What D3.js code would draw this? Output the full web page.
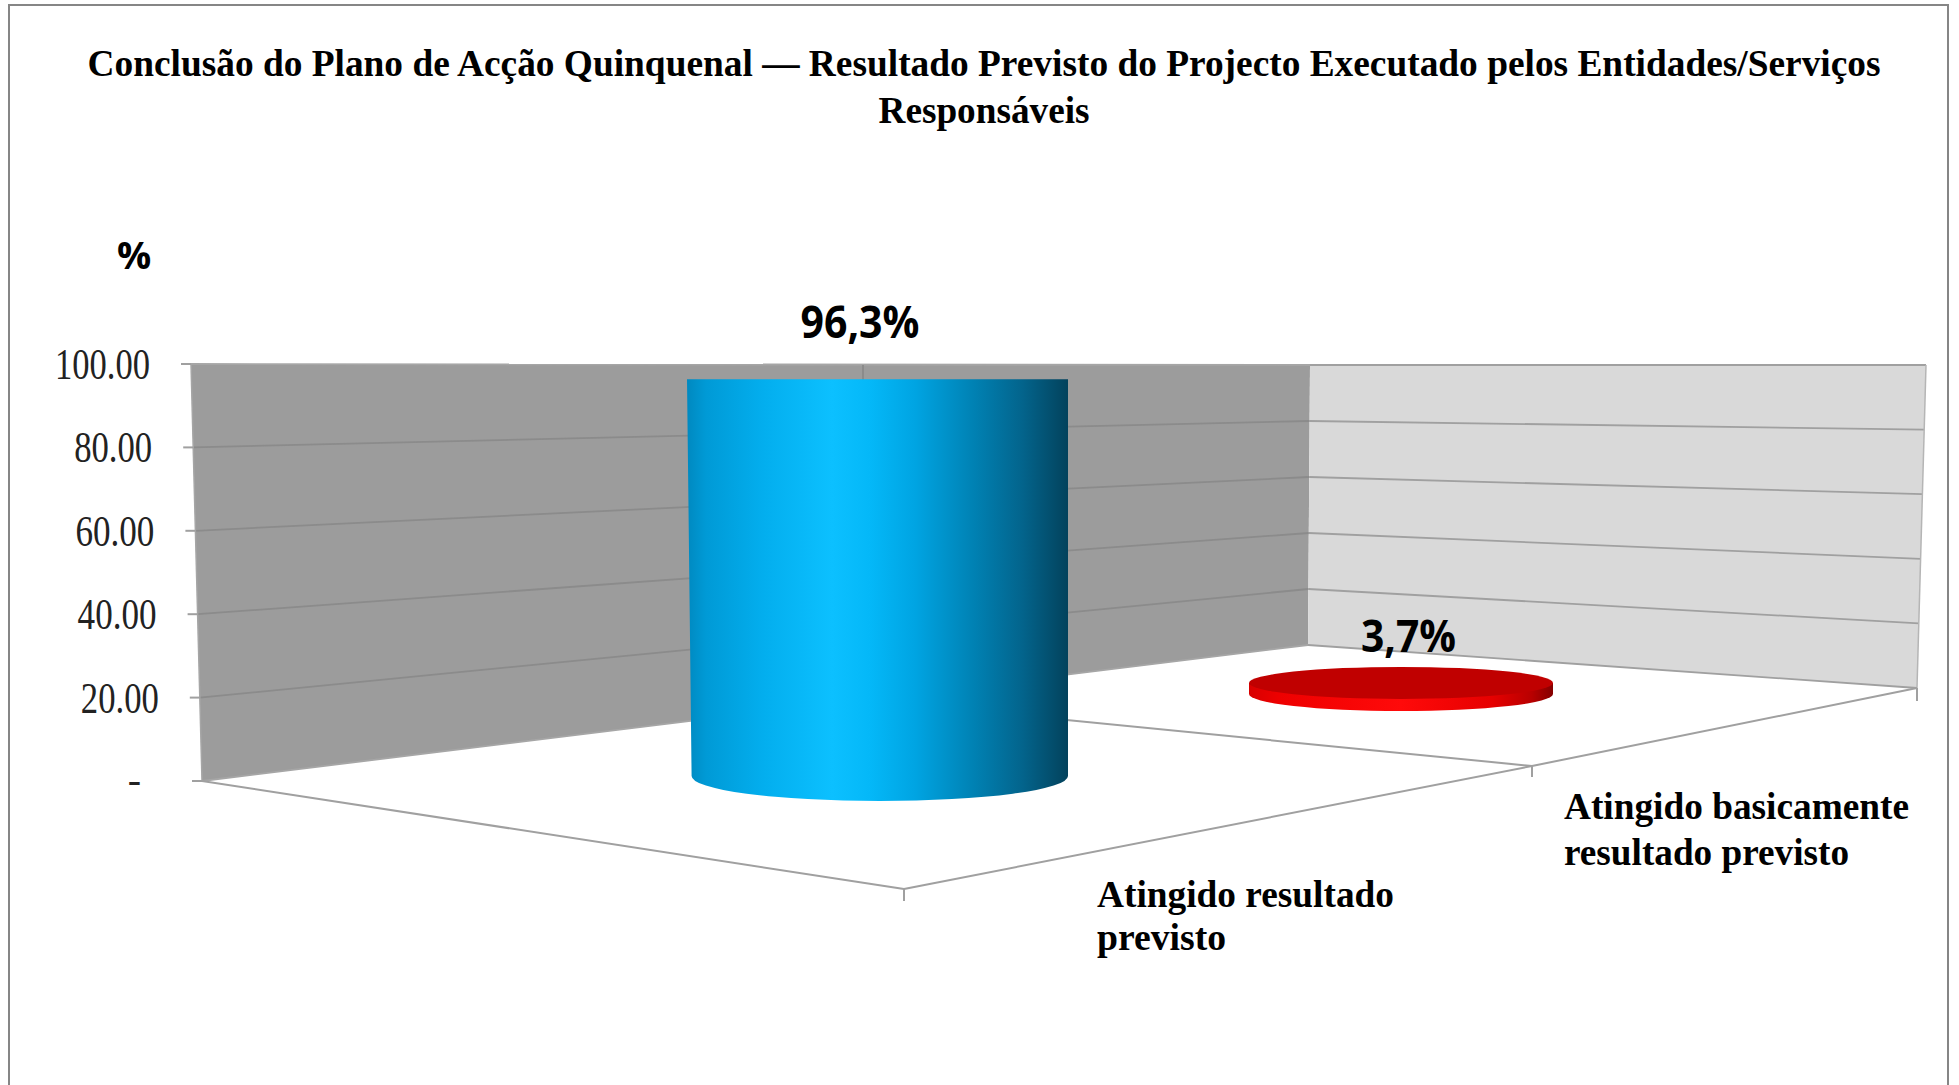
<!DOCTYPE html>
<html>
<head>
<meta charset="utf-8">
<script src="https://cdn.jsdelivr.net/npm/d3@7"></script>
<style>
  html, body { margin: 0; padding: 0; background: #fff; overflow: hidden; }
  svg { display: block; }
</style>
</head>
<body>
<div id="chart"></div>
<script>
// chart data
const categories = ["Atingido resultado previsto", "Atingido basicamente resultado previsto"];
const values = [96.3, 3.7];
const valueLabels = ["96,3%", "3,7%"];
const tickValues = [0, 20, 40, 60, 80, 100];
const tickLabels = ["-", "20.00", "40.00", "60.00", "80.00", "100.00"];
const titleLines = [
  "Conclusão do Plano de Acção Quinquenal — Resultado Previsto do Projecto Executado pelos Entidades/Serviços",
  "Responsáveis"
];
const categoryLines = [["Atingido resultado", "previsto"], ["Atingido basicamente", "resultado previsto"]];
const unitLabel = "%";

const W = 1959, H = 1085;
const serif = "'Liberation Serif', serif";
const sans = "'Open Sans', sans-serif";

const svg = d3.select("#chart").append("svg").attr("width", W).attr("height", H);
const defs = svg.append("defs");

function addGradient(id, stops) {
  const g = defs.append("linearGradient").attr("id", id);
  stops.forEach(s => g.append("stop").attr("offset", s[0]).attr("stop-color", s[1]));
}
addGradient("cylBlue", [[0, "#0089c0"], [0.05, "#009ad6"], [0.2, "#03aeee"], [0.38, "#0cc0ff"], [0.48, "#04b8f8"],
  [0.6, "#00a4e2"], [0.75, "#0082b4"], [0.88, "#03648c"], [1, "#03425c"]]);
addGradient("cylRed", [[0, "#d80000"], [0.1, "#ee0000"], [0.5, "#ff0a0a"], [0.8, "#e60000"], [0.93, "#b80000"], [1, "#840000"]]);

// outer frame, open at the bottom
svg.append("path")
  .attr("d", `M9,${H} L9,5 L1948,5 L1948,${H}`)
  .attr("fill", "none").attr("stroke", "#868686").attr("stroke-width", 2);

// the three vertical edges of the walls, each with its own perspective scale
const leftY = d3.scaleLinear().domain([0, 100]).range([781, 364]);
const leftX = d3.scaleLinear().domain([0, 100]).range([202, 191]);
const cornerY = d3.scaleLinear().domain([0, 100]).range([645, 365]);
const cornerX = d3.scaleLinear().domain([0, 100]).range([1308, 1310]);
const rightY = d3.scaleLinear().domain([0, 100]).range([688, 365]);
const rightX = d3.scaleLinear().domain([0, 100]).range([1917, 1926]);

const poly = d3.line();
const axisColor = "#a0a0a0";

svg.append("path")
  .attr("d", poly([[leftX(0), leftY(0)], [leftX(100), leftY(100)], [cornerX(100), cornerY(100)], [cornerX(0), cornerY(0)]]) + "Z")
  .attr("fill", "#9c9c9c");
svg.append("path")
  .attr("d", poly([[cornerX(0), cornerY(0)], [cornerX(100), cornerY(100)], [rightX(100), rightY(100)], [rightX(0), rightY(0)]]) + "Z")
  .attr("fill", "#d9d9d9");

// gridlines
tickValues.forEach(t => {
  svg.append("path")
    .attr("d", poly([[leftX(t), leftY(t)], [cornerX(t), cornerY(t)]]))
    .attr("fill", "none").attr("stroke", t === 0 || t === 100 ? "#a6a6a6" : "#8b8b8b").attr("stroke-width", 1.8);
  svg.append("path")
    .attr("d", poly([[cornerX(t), cornerY(t)], [rightX(t), rightY(t)]]))
    .attr("fill", "none").attr("stroke", "#a0a0a0").attr("stroke-width", 1.8);
});
svg.append("path")
  .attr("d", poly([[rightX(100), rightY(100)], [rightX(0), rightY(0)]]))
  .attr("fill", "none").attr("stroke", "#b5b5b5").attr("stroke-width", 1.5);
svg.append("path")
  .attr("d", poly([[leftX(100), leftY(100)], [leftX(0), leftY(0)]]))
  .attr("fill", "none").attr("stroke", "#a6a6a6").attr("stroke-width", 1.5);

// floor edges and category ticks
const floorFront = [904, 889], floorMid = [1532, 766];
const axisLines = [
  [[leftX(0), leftY(0)], floorFront],
  [floorFront, floorMid],
  [floorMid, [rightX(0), rightY(0)]],
  [[863, 700], floorMid],
  [floorFront, [floorFront[0], 901]],
  [floorMid, [floorMid[0], 777]],
  [[rightX(0), rightY(0)], [rightX(0), 701]],
  [[863, 365], [863, 385]]
];
axisLines.forEach((l, i) => {
  svg.append("path").attr("d", poly(l)).attr("fill", "none")
    .attr("stroke", i === axisLines.length - 1 ? "#8b8b8b" : axisColor).attr("stroke-width", 2);
});

// y axis ticks and labels
const tickWidths = { "20.00": 78, "40.00": 79, "60.00": 79, "80.00": 78, "100.00": 95 };
tickValues.forEach((t, i) => {
  svg.append("line")
    .attr("x1", leftX(t) - 10).attr("x2", leftX(t))
    .attr("y1", leftY(t)).attr("y2", leftY(t))
    .attr("stroke", axisColor).attr("stroke-width", 2);
  const label = svg.append("text")
    .attr("x", i === 0 ? 141 : leftX(t) - 41)
    .attr("y", leftY(t) + (i === 0 ? 12 : 15))
    .attr("text-anchor", "end")
    .attr("font-family", serif)
    .attr("font-size", i === 0 ? 40 : 44)
    .attr("fill", "#222")
    .text(tickLabels[i]);
  if (tickWidths[tickLabels[i]]) {
    label.attr("textLength", tickWidths[tickLabels[i]]).attr("lengthAdjust", "spacingAndGlyphs");
  }
});

// cylinders, height read through a scale at each bar's depth
const baseY = d3.scaleOrdinal(categories, [776, 694]);
const depthPx = d3.scaleOrdinal(categories, [412, 300]);
const barLeft = d3.scaleOrdinal(categories, [691.6, 1249]);
const barRight = d3.scaleOrdinal(categories, [1068, 1553]);
const bottomRy = d3.scaleOrdinal(categories, [25, 17]);

categories.forEach((c, i) => {
  const y = d3.scaleLinear().domain([0, 100]).range([baseY(c), baseY(c) - depthPx(c)]);
  const x0 = barLeft(c), x1 = barRight(c), rx = (x1 - x0) / 2, ry = bottomRy(c);
  const top = y(values[i]), bottom = y(0);
  if (i === 0) {
    svg.append("path")
      .attr("d", `M687,${top} L${x1},${top} L${x1},${bottom} A${rx},${ry} 0 0 1 ${x0},${bottom} Z`)
      .attr("fill", "url(#cylBlue)");
  } else {
    svg.append("path")
      .attr("d", `M${x0},${top} L${x1},${top} L${x1},${bottom} A${rx},${ry} 0 0 1 ${x0},${bottom} Z`)
      .attr("fill", "url(#cylRed)");
    svg.append("ellipse")
      .attr("cx", (x0 + x1) / 2).attr("cy", top)
      .attr("rx", rx).attr("ry", 16)
      .attr("fill", "#c00000");
  }
});

// value labels
const labelPos = [[860, 338, 119], [1408.5, 652, 95]];
valueLabels.forEach((d, i) => {
  svg.append("text")
    .attr("x", labelPos[i][0]).attr("y", labelPos[i][1])
    .attr("text-anchor", "middle")
    .attr("font-family", sans).attr("font-weight", 700).attr("font-size", 44)
    .attr("textLength", labelPos[i][2]).attr("lengthAdjust", "spacingAndGlyphs")
    .attr("fill", "#000")
    .text(d);
});

// unit
svg.append("text")
  .attr("x", 134).attr("y", 269)
  .attr("text-anchor", "middle")
  .attr("font-family", sans).attr("font-weight", 700).attr("font-size", 38)
  .attr("fill", "#000")
  .text(unitLabel);

// category labels
const catPos = [
  [[1097, 907, 297], [1097, 950, 129]],
  [[1564, 819, 345], [1564, 865, 285]]
];
categoryLines.forEach((lines, i) => {
  lines.forEach((line, j) => {
    svg.append("text")
      .attr("x", catPos[i][j][0]).attr("y", catPos[i][j][1])
      .attr("font-family", serif).attr("font-weight", 700).attr("font-size", 38)
      .attr("textLength", catPos[i][j][2]).attr("lengthAdjust", "spacingAndGlyphs")
      .attr("fill", "#000")
      .text(line);
  });
});

// title
const titlePos = [[984, 76, 1793], [984, 123, 211]];
titleLines.forEach((line, i) => {
  svg.append("text")
    .attr("x", titlePos[i][0]).attr("y", titlePos[i][1])
    .attr("text-anchor", "middle")
    .attr("font-family", serif).attr("font-weight", 700).attr("font-size", 38)
    .attr("textLength", titlePos[i][2]).attr("lengthAdjust", "spacingAndGlyphs")
    .attr("fill", "#000")
    .text(line);
});
</script>
</body>
</html>
